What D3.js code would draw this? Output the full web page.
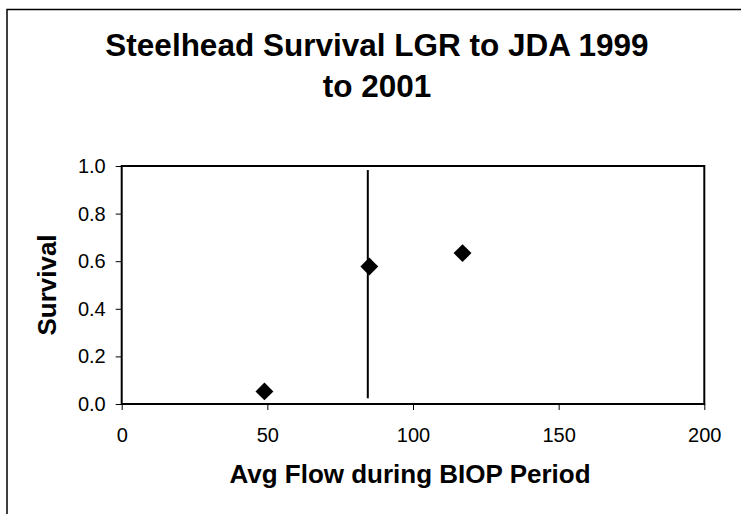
<!DOCTYPE html>
<html>
<head>
<meta charset="utf-8">
<script src="https://cdn.jsdelivr.net/npm/d3@7"></script>
<style>
  html, body { margin: 0; padding: 0; background: #fff; }
  svg { display: block; }
  text { font-family: Arial, "Liberation Sans", sans-serif; fill: #000; }
</style>
</head>
<body>
<div id="chart"></div>
<script>
// Data
const titleLines = ["Steelhead Survival LGR to JDA 1999", "to 2001"];
const xLabel = "Avg Flow during BIOP Period";
const yLabel = "Survival";
const flow = [49, 85, 117];
const survival = [0.053, 0.578, 0.634];
const errLow = [null, 0.024, null];
const errHigh = [null, 0.983, null];
const xTicks = [0, 50, 100, 150, 200];
const yTicks = [0.0, 0.2, 0.4, 0.6, 0.8, 1.0];

const W = 741, H = 514;
const plot = { left: 121.7, right: 704.3, top: 166, bottom: 404 };

const svg = d3.select("#chart").append("svg")
  .attr("width", W).attr("height", H);

// outer chart border (only left and top visible)
svg.append("rect")
  .attr("x", 7).attr("y", 9.5)
  .attr("width", W + 20).attr("height", H + 20)
  .attr("fill", "none").attr("stroke", "#000").attr("stroke-width", 1.5);

const x = d3.scaleLinear().domain([0, 200]).range([plot.left, plot.right]);
const y = d3.scaleLinear().domain([0, 1]).range([plot.bottom, plot.top]);

// title
svg.append("text")
  .attr("x", 377).attr("y", 56)
  .attr("text-anchor", "middle")
  .style("font-size", "31.5px").style("font-weight", "bold")
  .selectAll("tspan").data(titleLines).join("tspan")
  .attr("x", 377).attr("dy", (d, i) => i === 0 ? 0 : 41)
  .text(d => d);

// axes
const xAxis = d3.axisBottom(x).tickValues(xTicks).tickSize(6).tickPadding(18)
  .tickFormat(d3.format("d"));
const gx = svg.append("g").attr("transform", `translate(0,${plot.bottom})`).call(xAxis);
gx.select(".domain").remove();
gx.selectAll(".tick line").attr("stroke", "#000").attr("stroke-width", 1);
gx.selectAll(".tick text").style("font-size", "20px").attr("dy", "0.71em")
  .style("font-family", "Arial, 'Liberation Sans', sans-serif");

const yAxis = d3.axisLeft(y).tickValues(yTicks).tickSize(6).tickPadding(10)
  .tickFormat(d3.format(".1f"));
const gy = svg.append("g").attr("transform", `translate(${plot.left},0)`).call(yAxis);
gy.select(".domain").remove();
gy.selectAll(".tick line").attr("stroke", "#000").attr("stroke-width", 1);
gy.selectAll(".tick text").style("font-size", "20px")
  .style("font-family", "Arial, 'Liberation Sans', sans-serif");

// plot frame
svg.append("rect")
  .attr("x", plot.left).attr("y", plot.top)
  .attr("width", plot.right - plot.left).attr("height", plot.bottom - plot.top)
  .attr("fill", "none").attr("stroke", "#000").attr("stroke-width", 2);

// data table
const data = flow.map((f, i) => ({ f, s: survival[i], lo: errLow[i], hi: errHigh[i] }));

// error bars
svg.selectAll("line.err").data(data.filter(d => d.lo !== null)).join("line")
  .attr("class", "err")
  .attr("x1", d => x(d.f) - 1.5).attr("x2", d => x(d.f) - 1.5)
  .attr("y1", d => y(d.lo)).attr("y2", d => y(d.hi))
  .attr("stroke", "#000").attr("stroke-width", 2);

// diamonds
svg.selectAll("path.pt").data(data).join("path")
  .attr("class", "pt")
  .attr("d", d3.symbol().type(d3.symbolSquare).size(160))
  .attr("transform", d => `translate(${x(d.f)},${y(d.s)}) rotate(45)`)
  .attr("fill", "#000");

// axis titles
svg.append("text")
  .attr("x", (plot.left + plot.right) / 2 - 3).attr("y", 483)
  .attr("text-anchor", "middle")
  .style("font-size", "26px").style("font-weight", "bold")
  .text(xLabel);

svg.append("text")
  .attr("transform", `translate(56,${(233 + 337) / 2}) rotate(-90)`)
  .attr("text-anchor", "middle")
  .style("font-size", "26px").style("font-weight", "bold")
  .text(yLabel);
</script>
</body>
</html>
